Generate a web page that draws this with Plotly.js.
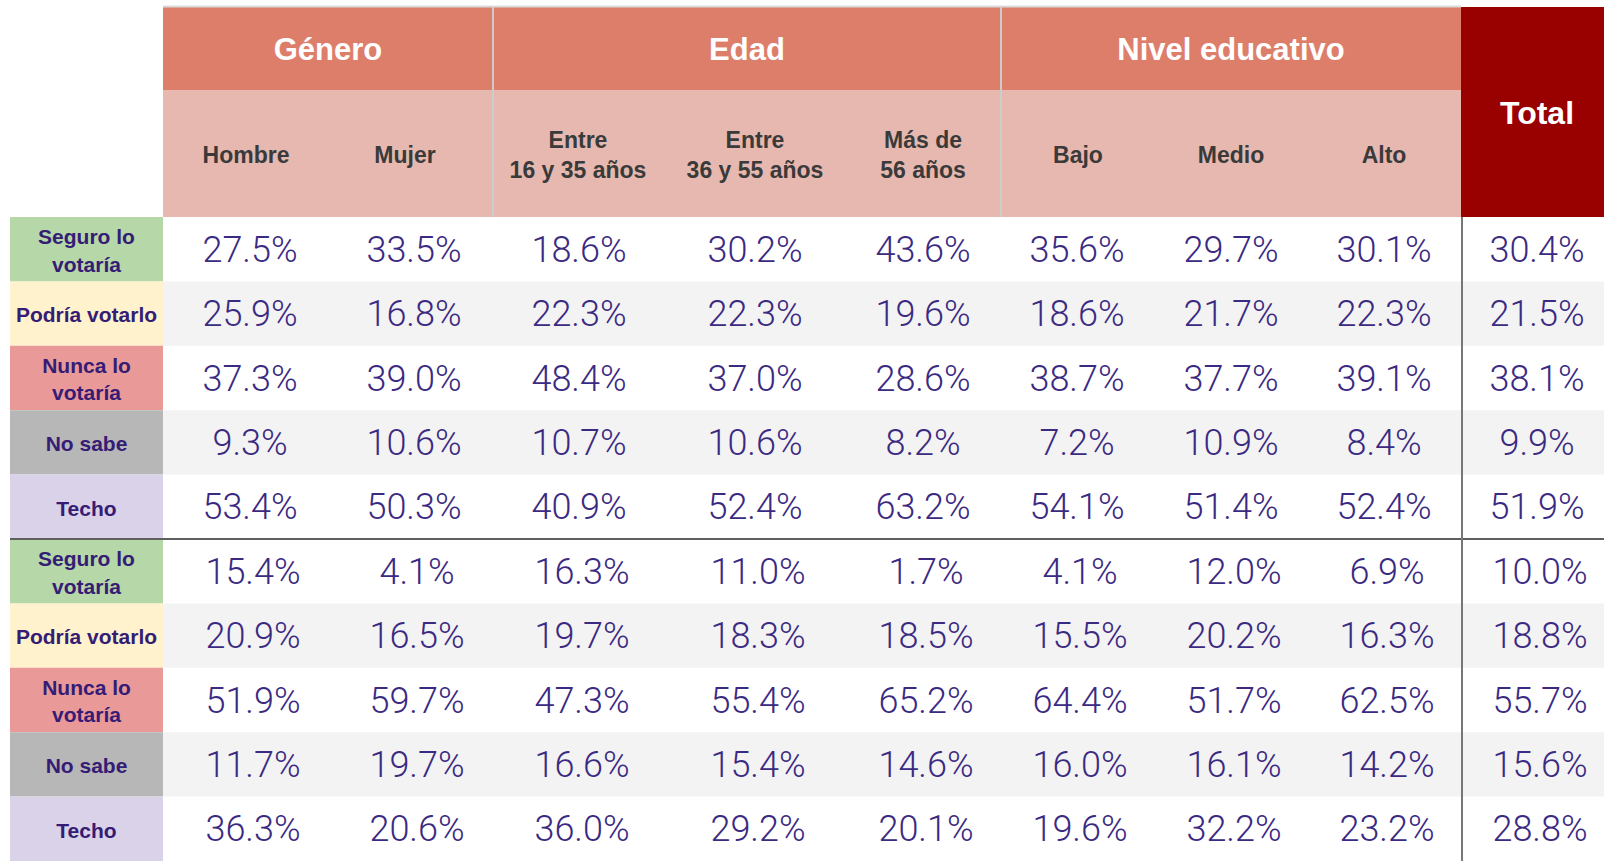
<!DOCTYPE html>
<html>
<head>
<meta charset="utf-8">
<script src="https://cdn.plot.ly/plotly-3.0.1.min.js"></script>
<style>html,body{margin:0;padding:0;background:#fff;}#chart{width:1604px;height:861px;}</style>
</head>
<body>
<div id="chart"></div>
<script>
// ---------- data ----------
const groups = ['Género', 'Edad', 'Nivel educativo'];
const totalLabel = 'Total';
const subgroups = ['Hombre', 'Mujer', 'Entre<br>16 y 35 años', 'Entre<br>36 y 55 años', 'Más de<br>56 años', 'Bajo', 'Medio', 'Alto'];
const rowLabels = ['Seguro lo<br>votaría', 'Podría votarlo', 'Nunca lo<br>votaría', 'No sabe', 'Techo'];

// block 1 (columns: Hombre, Mujer, 16-35, 36-55, 56+, Bajo, Medio, Alto, Total)
const seguro1 = [27.5, 33.5, 18.6, 30.2, 43.6, 35.6, 29.7, 30.1, 30.4];
const podria1 = [25.9, 16.8, 22.3, 22.3, 19.6, 18.6, 21.7, 22.3, 21.5];
const nunca1  = [37.3, 39.0, 48.4, 37.0, 28.6, 38.7, 37.7, 39.1, 38.1];
const nosabe1 = [9.3, 10.6, 10.7, 10.6, 8.2, 7.2, 10.9, 8.4, 9.9];
const techo1  = [53.4, 50.3, 40.9, 52.4, 63.2, 54.1, 51.4, 52.4, 51.9];
// block 2
const seguro2 = [15.4, 4.1, 16.3, 11.0, 1.7, 4.1, 12.0, 6.9, 10.0];
const podria2 = [20.9, 16.5, 19.7, 18.3, 18.5, 15.5, 20.2, 16.3, 18.8];
const nunca2  = [51.9, 59.7, 47.3, 55.4, 65.2, 64.4, 51.7, 62.5, 55.7];
const nosabe2 = [11.7, 19.7, 16.6, 15.4, 14.6, 16.0, 16.1, 14.2, 15.6];
const techo2  = [36.3, 20.6, 36.0, 29.2, 20.1, 19.6, 32.2, 23.2, 28.8];

// ---------- layout constants ----------
const W = 1604, H = 861;
const groupEdges = [163, 493, 1001, 1461, 1604];
const headerX = [246, 405, 578, 755, 923, 1078, 1231, 1384];
const valueX = [250, 414, 579, 755, 923, 1077, 1231, 1384, 1537];
const labelX0 = 10, labelX1 = 163;
const headTop = 7, headMid = 90, headBot = 217;
const nRows = 10;
const rowH = (H - headBot) / nRows;
const dy = 3.5; // vertical text nudge
const labelColors = ['#b6d7a8', '#fff2cc', '#ea9999', '#b7b7b7', '#d9d2e9'];
const stripe = '#f3f3f3';
const headColor = '#dd7e6b', subColor = '#e6b8af', totalColor = '#990000';
const purple = '#351c75', valColor = '#3b2a82';

const blocks = [[seguro1, podria1, nunca1, nosabe1, techo1], [seguro2, podria2, nunca2, nosabe2, techo2]];

const shapes = [];
function rect(x0, x1, y0, y1, color) {
  shapes.push({type: 'rect', xref: 'x', yref: 'y', x0, x1, y0, y1, fillcolor: color, line: {width: 0}, layer: 'below'});
}
function line(x0, x1, y0, y1, color, w) {
  shapes.push({type: 'line', xref: 'x', yref: 'y', x0, x1, y0, y1, line: {color, width: w}, layer: 'above'});
}

// header backgrounds
rect(groupEdges[0], groupEdges[3], headTop, headMid, headColor);
rect(groupEdges[0], groupEdges[3], headMid, headBot, subColor);
rect(groupEdges[3], groupEdges[4], headTop, headBot, totalColor);
line(groupEdges[0], groupEdges[3], headTop - 0.5, headTop - 0.5, '#d9d9d9', 2);
line(groupEdges[1], groupEdges[1], headTop, headBot, '#cccccc', 2);
line(groupEdges[2], groupEdges[2], headTop, headBot, '#cccccc', 2);

// rows
const traces = [];
blocks.forEach((block, b) => {
  block.forEach((vals, r) => {
    const i = b * 5 + r;
    const y0 = headBot + i * rowH, y1 = y0 + rowH;
    rect(labelX0, labelX1, y0, y1, labelColors[r]);
    if (r % 2 === 1) rect(labelX1, W, y0, y1, stripe);
    traces.push({
      type: 'scatter', mode: 'text', hoverinfo: 'skip',
      x: valueX.map(v => v + b * 3), y: vals.map(() => (y0 + y1) / 2 + dy),
      text: vals.map(v => v.toFixed(1) + '%'),
      textposition: 'middle center',
      textfont: {family: 'Roboto, "Liberation Sans", sans-serif', size: 36, color: valColor, weight: 300}
    });
  });
  const labelY = rowLabels.map((_, r) => headBot + (b * 5 + r + 0.5) * rowH + dy);
  traces.push({
    type: 'scatter', mode: 'text', hoverinfo: 'skip',
    x: rowLabels.map(() => (labelX0 + labelX1) / 2), y: labelY,
    text: rowLabels, textposition: 'middle center',
    textfont: {family: '"Liberation Sans", Arial, sans-serif', size: 21, color: purple, weight: 700}
  });
});
// separators
line(labelX0, W, headBot + 5 * rowH, headBot + 5 * rowH, '#5f5f5f', 2);
line(groupEdges[3] + 1, groupEdges[3] + 1, headBot, H, '#777777', 2);

// group titles
traces.push({
  type: 'scatter', mode: 'text', hoverinfo: 'skip',
  x: groups.map((_, g) => (groupEdges[g] + groupEdges[g + 1]) / 2),
  y: groups.map(() => (headTop + headMid) / 2 + dy),
  text: groups, textposition: 'middle center',
  textfont: {family: '"Liberation Sans", Arial, sans-serif', size: 31, color: '#ffffff', weight: 700}
});
traces.push({
  type: 'scatter', mode: 'text', hoverinfo: 'skip',
  x: [valueX[8]], y: [(headTop + headBot) / 2 + dy],
  text: [totalLabel], textposition: 'middle center',
  textfont: {family: '"Liberation Sans", Arial, sans-serif', size: 32, color: '#ffffff', weight: 700}
});
traces.push({
  type: 'scatter', mode: 'text', hoverinfo: 'skip',
  x: headerX, y: subgroups.map(() => (headMid + headBot) / 2 + dy),
  text: subgroups, textposition: 'middle center',
  textfont: {family: '"Liberation Sans", Arial, sans-serif', size: 23, color: '#3a3a3a', weight: 700}
});

const layout = {
  width: W, height: H, autosize: false,
  margin: {l: 0, r: 0, t: 0, b: 0, pad: 0},
  paper_bgcolor: '#ffffff', plot_bgcolor: '#ffffff',
  showlegend: false,
  xaxis: {range: [0, W], visible: false, fixedrange: true},
  yaxis: {range: [H, 0], visible: false, fixedrange: true},
  shapes
};
Plotly.newPlot('chart', traces, layout, {staticPlot: true, displayModeBar: false});
</script>
</body>
</html>
